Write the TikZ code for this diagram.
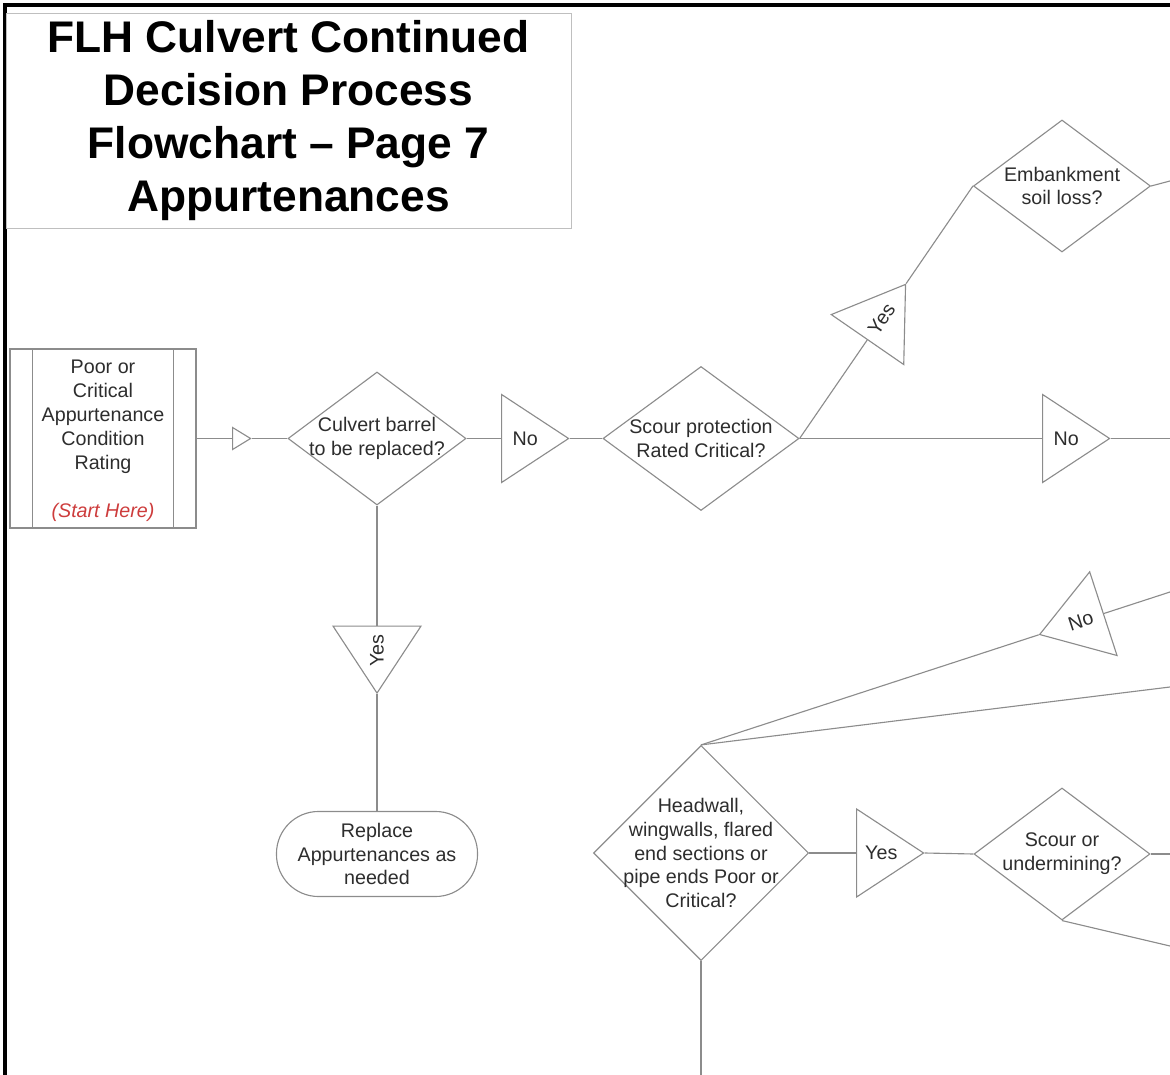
\documentclass[tikz,border=0pt]{standalone}
\usepackage{fontspec}
\setmainfont{Liberation Sans}
\usetikzlibrary{shapes.geometric, positioning, calc}

\definecolor{linegray}{RGB}{140,140,140}
\definecolor{textgray}{RGB}{45,45,45}
\definecolor{startred}{RGB}{205,60,60}

\begin{document}
\begin{tikzpicture}[x=0.025cm, y=-0.025cm,
  every node/.style={text=textgray, font=\fontsize{14}{17}\selectfont, align=center},
  conn/.style={draw=linegray, line width=0.8pt},
  decision/.style={diamond, draw=linegray, line width=0.8pt, inner sep=0pt},
  answer/.style={isosceles triangle, isosceles triangle apex angle=67, isosceles triangle stretches,
    minimum width=2.2cm, minimum height=1.675cm, inner sep=0pt, draw=linegray, line width=0.8pt}]

\useasboundingbox (0,0) rectangle (1170,1075);
\draw[line width=2.2pt, black] (5,1075) -- (5,5) -- (1170,5);

% Title box
\node[draw=gray!50, minimum width=14.125cm, minimum height=5.375cm, text=black,
  font=\fontsize{31.5}{37.8}\selectfont\bfseries] (title) at (288.5,120.5)
  {FLH Culvert Continued\\Decision Process\\Flowchart -- Page 7\\Appurtenances};

% Start box
\node[draw=linegray, line width=0.8pt, minimum width=4.65cm, minimum height=4.475cm] (start) at (103,438.5) {};
\draw[conn] ([xshift=0.575cm]start.north west) -- ([xshift=0.575cm]start.south west);
\draw[conn] ([xshift=-0.575cm]start.north east) -- ([xshift=-0.575cm]start.south east);
\node (startt) at ([yshift=-0.06cm]start.center) {Poor or\\Critical\\Appurtenance\\Condition\\Rating\\[17pt]{\color{startred}\itshape (Start Here)}};
\node[answer, minimum width=0.55cm, minimum height=0.45cm, anchor=lower side] (arr) at (232,438.5) {};

% Top row
\node[decision, minimum width=4.45cm, minimum height=3.325cm] (barrel) at (377,438.5) {};
\node (barrelt) at (barrel) {Culvert barrel\\to be replaced?};
\node[answer, anchor=lower side] (no1) at (501,438.5) {No};
\node[decision, minimum width=4.9cm, minimum height=3.6cm] (prot) at (701,438.5) {};
\node (prott) at (prot) {Scour protection\\Rated Critical?};
\node[decision, minimum width=4.425cm, minimum height=3.3cm] (soil) at (1062,186) {};
\node (soilt) at (soil) {Embankment\\soil loss?};
\node[answer, rotate=55.4, anchor=lower side] (yes1) at ($(prot.east)!0.39!(soil.west)$) {Yes};
\node[answer, anchor=lower side] (no2) at (1042,438.5) {No};

% Replace branch
\node[answer, rotate=90, shape border rotate=180, anchor=lower side] (yes2) at (377,625.5) {Yes};
\node[draw=linegray, line width=0.8pt, rounded corners=1.05cm, minimum width=5.025cm, minimum height=2.125cm] (repl) at (377,854) {};
\node (replt) at (repl) {Replace\\Appurtenances as\\needed};

% Lower row
\node[decision, minimum width=5.375cm, minimum height=5.375cm] (wall) at (701,853) {};
\node (wallt) at (wall) {Headwall,\\wingwalls, flared\\end sections or\\pipe ends Poor or\\Critical?};
\node[answer, anchor=lower side] (yes3) at (856,853) {Yes};
\node[decision, minimum width=4.4cm, minimum height=3.3cm] (under) at (1062,854) {};
\node (undert) at (under) {Scour or\\undermining?};

% Off-page ends
\coordinate (offA) at (1170,181);
\coordinate (offB) at (1170,438.5);
\coordinate (offC) at (1170,687);
\coordinate (offD) at (1170,592);
\coordinate (offE) at (1170,854);
\coordinate (offF) at (1170,946);
\coordinate (offG) at (701,1075);
\node[answer, rotate=18.1, shape border rotate=180, anchor=apex] (no3) at ($(wall.north)!0.72!(offD)$) {No};

\draw[conn] (start.east) -- (arr.lower side);
\draw[conn] (arr.apex) -- (barrel.west);
\draw[conn] (barrel.east) -- (no1.lower side);
\draw[conn] (no1.apex) -- (prot.west);
\draw[conn] (prot.east) -- (yes1.lower side);
\draw[conn] (yes1.apex) -- (soil.west);
\draw[conn] (soil.east) -- (offA);
\draw[conn] (prot.east) -- (no2.lower side);
\draw[conn] (no2.apex) -- (offB);
\draw[conn] (barrel.south) -- (yes2.lower side);
\draw[conn] (yes2.apex) -- (repl.north);
\draw[conn] (wall.north) -- (no3.apex);
\draw[conn] (no3.lower side) -- (offD);
\draw[conn] (wall.north) -- (offC);
\draw[conn] (wall.east) -- (yes3.lower side);
\draw[conn] (yes3.apex) -- (under.west);
\draw[conn] (under.east) -- (offE);
\draw[conn] (under.south) -- (offF);
\draw[conn] (wall.south) -- (offG);

\end{tikzpicture}
\end{document}
